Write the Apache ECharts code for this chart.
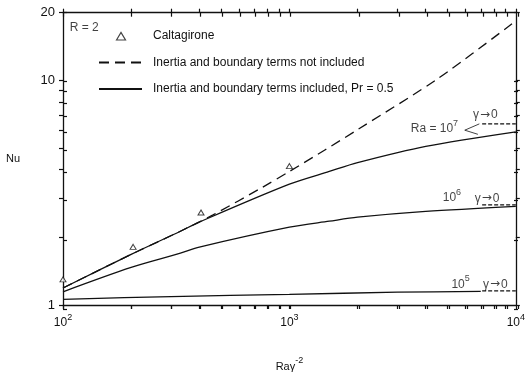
<!DOCTYPE html>
<html>
<head>
<meta charset="utf-8">
<script src="https://cdn.jsdelivr.net/npm/echarts@6/dist/echarts.min.js"></script>
<style>
  html, body { margin: 0; padding: 0; background: #fff; }
  #chart { width: 528px; height: 377px; }
</style>
</head>
<body>
<div id="chart"></div>
<script>
// Nu against Ra*gamma^-2 for R = 2, log-log
const caltX = [100, 204, 407, 1000];
const caltNu = [1.3, 1.815, 2.58, 4.15];

const noInertiaX = [100, 200, 330, 460, 760, 1000, 1440, 2000, 4540, 10000];
const noInertiaNu = [1.19, 1.68, 2.13, 2.52, 3.34, 3.93, 4.91, 6.03, 10.2, 18.4];

const curveX = [100, 200, 330, 400, 1000, 1500, 2000, 4000, 10000];
const ra7Nu = [1.19, 1.68, 2.13, 2.34, 3.45, 3.93, 4.3, 5.08, 5.9];
const ra6Nu = [1.145, 1.47, 1.7, 1.81, 2.22, 2.36, 2.46, 2.61, 2.75];
const ra5X = [100, 300, 1000, 3000, 7000];
const ra5Nu = [1.06, 1.09, 1.115, 1.14, 1.15];

// gamma -> 0 limits (short dashed bits at the right edge)
const limitX = [7100, 10000];
const limitNu = [6.4, 2.79, 1.155];

// the "<" leader next to Ra = 10^7
const leaderX = [6900, 5950, 6800];
const leaderNu = [6.4, 6.0, 5.75];

const xTicks = [100, 200, 300, 400, 500, 600, 700, 800, 900, 1000,
  2000, 3000, 4000, 5000, 6000, 7000, 8000, 9000, 10000];
const yTicks = [1, 2, 3, 4, 5, 6, 7, 8, 9, 10, 20];
const xLabels = [100, 1000, 10000];
const yLabels = [1, 10, 20];

const legendNames = ['Caltagirone', 'Inertia and boundary terms not included',
  'Inertia and boundary terms included, Pr = 0.5'];

// text notes, anchored in data space
const limitText = '{t|γ}{a|→}{t|0}';
const notes = [
  { text: '{t|R = 2}', at: [107, 17.5], side: 'right' },
  { text: '{t|Ra = 10}{s|7}', at: [5560, 6.22], side: 'left' },
  { text: limitText, at: [6470, 7.17], side: 'right' },
  { text: '{t|10}{s|6}', at: [5730, 3.07], side: 'left' },
  { text: limitText, at: [6580, 3.05], side: 'right' },
  { text: '{t|10}{s|5}', at: [6260, 1.262], side: 'left' },
  { text: limitText, at: [7160, 1.262], side: 'right' }
];

const ink = '#111';
const font = '"Liberation Sans", Arial, sans-serif';
const zip = (xs, ys) => xs.map((x, i) => [x, ys[i]]);
const rich = {
  t: { fontSize: 12, lineHeight: 16, color: ink, fontFamily: font, verticalAlign: 'bottom' },
  s: { fontSize: 9, lineHeight: 16, color: ink, fontFamily: font, verticalAlign: 'top' },
  a: { fontSize: 12, lineHeight: 16, color: ink, fontFamily: '"DejaVu Sans"', verticalAlign: 'bottom', padding: [0, 1, 0, 1] }
};
const pow10 = (v) => `{t|10}{s|${Math.round(Math.log10(v))}}`;

const gridBox = { left: 63, right: 10, top: 12.7, bottom: 68 };

function xAxisFor(grid, position, inside, labels) {
  return {
    type: 'log', logBase: 10, gridIndex: grid, position, min: 100, max: 10000,
    axisLine: { show: !inside, onZero: false, lineStyle: { color: ink, width: 1.3 } },
    axisTick: { show: true, inside, length: 4, customValues: xTicks, lineStyle: { color: ink, width: 1.2 } },
    axisLabel: labels
      ? { show: true, customValues: xLabels, margin: 8, formatter: pow10, rich }
      : { show: false },
    splitLine: { show: false }
  };
}

function yAxisFor(grid, position, inside, labels) {
  return {
    type: 'log', logBase: 10, gridIndex: grid, position, min: 1, max: 20,
    axisLine: { show: !inside, onZero: false, lineStyle: { color: ink, width: 1.3 } },
    axisTick: { show: true, inside, length: 4, customValues: yTicks, lineStyle: { color: ink, width: 1.2 } },
    axisLabel: labels
      ? { show: true, customValues: yLabels, margin: 8, color: ink, fontSize: 13, fontFamily: font }
      : { show: false },
    splitLine: { show: false }
  };
}

const xBottom = xAxisFor(0, 'bottom', false, true);
xBottom.name = '{t|Raγ}{s|-2}';
xBottom.nameLocation = 'middle';
xBottom.nameGap = 51;
xBottom.nameTextStyle = { rich: { t: { ...rich.t, fontSize: 11 }, s: { ...rich.s, fontSize: 9 } } };

const yLeft = yAxisFor(0, 'left', false, true);
yLeft.name = 'Nu';
yLeft.nameLocation = 'middle';
yLeft.nameRotate = 0;
yLeft.nameGap = 43;
yLeft.nameTextStyle = { color: ink, fontSize: 11, fontFamily: font };

const solid = { color: ink, width: 1.3 };
const lineSeries = (name, data, lineStyle, z) => ({
  name, type: 'line', data, symbol: 'none', smooth: 0.3, z: z || 2,
  xAxisIndex: 0, yAxisIndex: 0, lineStyle, itemStyle: { color: ink }
});

const series = [
  lineSeries(legendNames[1], zip(noInertiaX, noInertiaNu), { color: ink, width: 1.3, type: [10, 6] }),
  lineSeries(legendNames[2], zip(curveX, ra7Nu), solid),
  lineSeries(legendNames[2], zip(curveX, ra6Nu), solid),
  lineSeries(legendNames[2], zip(ra5X, ra5Nu), solid),
  ...limitNu.map((nu) => ({
    name: 'limit', type: 'line', symbol: 'none', xAxisIndex: 0, yAxisIndex: 0,
    data: limitX.map((x) => [x, nu]),
    lineStyle: { color: ink, width: 1.2, type: [4, 2] }
  })),
  {
    name: 'leader', type: 'line', symbol: 'none', xAxisIndex: 0, yAxisIndex: 0,
    data: zip(leaderX, leaderNu), lineStyle: { color: ink, width: 0.8 }
  },
  {
    name: legendNames[0], type: 'scatter', symbol: 'triangle', symbolSize: [6, 5], z: 5,
    xAxisIndex: 0, yAxisIndex: 0, data: zip(caltX, caltNu),
    itemStyle: { color: '#fff', borderColor: ink, borderWidth: 1 }
  },
  {
    name: 'notes', type: 'scatter', symbolSize: 0, silent: true, z: 6,
    xAxisIndex: 0, yAxisIndex: 0,
    data: notes.map((n) => ({
      value: n.at,
      label: { show: true, position: n.side, distance: 0, formatter: n.text, rich }
    }))
  }
];

// small triangle centred in the 43px legend slot (the two bare moves pad the box)
const legendTriangle = 'path://M0,0M43,8M17.5,8L22,0.5L26.5,8Z';

const chart = echarts.init(document.getElementById('chart'), null, { renderer: 'canvas' });
chart.setOption({
  animation: false,
  backgroundColor: '#fff',
  textStyle: { fontFamily: font, color: ink },
  grid: [{ ...gridBox }, { ...gridBox }],
  xAxis: [
    xBottom,
    xAxisFor(0, 'top', false, false),
    xAxisFor(1, 'bottom', true, false),
    xAxisFor(1, 'top', true, false)
  ],
  yAxis: [
    yLeft,
    yAxisFor(0, 'right', false, false),
    yAxisFor(1, 'left', true, false),
    yAxisFor(1, 'right', true, false)
  ],
  legend: {
    data: [
      { name: legendNames[0], icon: legendTriangle, itemStyle: { color: '#fff', borderColor: ink, borderWidth: 1.2 } },
      { name: legendNames[1], itemStyle: { opacity: 0 } },
      { name: legendNames[2], itemStyle: { opacity: 0 } }
    ],
    orient: 'vertical',
    left: 98,
    top: 30,
    padding: 0,
    itemWidth: 43,
    itemHeight: 8,
    itemGap: 14.5,
    selectedMode: false,
    textStyle: { color: ink, fontSize: 12, fontFamily: font, padding: [0, 0, 0, 6] }
  },
  series
});
</script>
</body>
</html>
